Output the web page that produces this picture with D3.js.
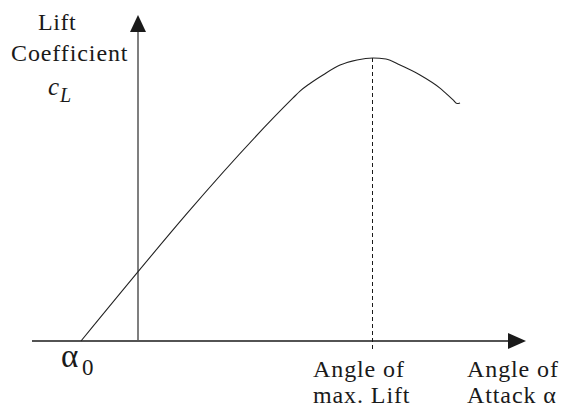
<!DOCTYPE html>
<html>
<head>
<meta charset="utf-8">
<script src="https://cdn.jsdelivr.net/npm/d3@7/dist/d3.min.js"></script>
<style>
  html, body { margin: 0; padding: 0; background: #fff; }
  svg { display: block; }
</style>
</head>
<body>
<div id="chart"></div>
<script>
// Lift curve: angle of attack (deg) vs lift coefficient
const alphaDeg = [-4.0, 10.88, 11.37, 12.07, 12.98, 14.18, 15.37, 16.49, 17.40, 18.39, 19.79, 21.19, 22.11, 22.39, 22.60];
const liftCoef = [0.0, 1.373, 1.412, 1.455, 1.503, 1.559, 1.588, 1.599, 1.593, 1.559, 1.503, 1.429, 1.362, 1.342, 1.345];
const alphaMaxLift = 16.49;  // angle of max. lift
const cLMax = 1.599;

const W = 562, H = 409;
const FONT = "'Liberation Serif', Tinos, 'Nimbus Roman', 'Times New Roman', Times, serif";
const svg = d3.select("#chart").append("svg").attr("width", W).attr("height", H);

const x = d3.scaleLinear().domain([-8, 28]).range([24, 537]);
const y = d3.scaleLinear().domain([0, 1.8]).range([341, 22.4]);

const ink = "#1a1a1a";

// horizontal axis with arrowhead
svg.append("line")
  .attr("x1", 32).attr("x2", 510)
  .attr("y1", y(0)).attr("y2", y(0))
  .attr("stroke", ink).attr("stroke-width", 1.6);
svg.append("path")
  .attr("d", `M508,${y(0) - 8} L526,${y(0)} L508,${y(0) + 8} Z`)
  .attr("fill", ink);

// vertical axis with arrowhead
svg.append("line")
  .attr("x1", x(0)).attr("x2", x(0))
  .attr("y1", y(0)).attr("y2", 30)
  .attr("stroke", "#555").attr("stroke-width", 1.5);
svg.append("path")
  .attr("d", `M${x(0) - 8},32 L${x(0)},15 L${x(0) + 8},32 Z`)
  .attr("fill", ink);

// dashed marker at the angle of max. lift
svg.append("line")
  .attr("x1", x(alphaMaxLift)).attr("x2", x(alphaMaxLift))
  .attr("y1", y(cLMax)).attr("y2", y(0) + 9)
  .attr("stroke", ink).attr("stroke-width", 1)
  .attr("shape-rendering", "crispEdges")
  .attr("stroke-dasharray", "4,3");

// lift curve
const pts = alphaDeg.map((a, i) => [a, liftCoef[i]]);
const line = d3.line()
  .x(d => x(d[0])).y(d => y(d[1]))
  .curve(d3.curveMonotoneX);
svg.append("path")
  .attr("d", line(pts))
  .attr("fill", "none")
  .attr("stroke", "#222").attr("stroke-width", 1.1);

function label(px, py, size, str, spacing) {
  return svg.append("text")
    .attr("x", px).attr("y", py)
    .attr("font-family", FONT).attr("font-size", size)
    .attr("letter-spacing", spacing || 0)
    .attr("fill", ink)
    .text(str);
}

// y-axis title
label(38, 30, 24, "Lift", 0.6);
label(11, 61, 24, "Coefficient", 0.9);
const cl = label(48, 95, 25, null).attr("font-style", "italic");
cl.append("tspan").text("c");
cl.append("tspan").attr("x", 60).attr("y", 102).attr("font-size", 20).text("L");

// alpha zero label
const a0 = label(61, 367, 33, null);
a0.append("tspan").text("α");
a0.append("tspan").attr("x", 82).attr("y", 375).attr("font-size", 23).text("0");

// angle of max. lift label
label(313, 377, 24, "Angle of", 0.9);
label(313, 403, 24, "max. Lift", 0.9);

// x-axis title
label(467, 377, 24, "Angle of", 0.9);
label(467, 403, 24, "Attack α", 0.9);
</script>
</body>
</html>
